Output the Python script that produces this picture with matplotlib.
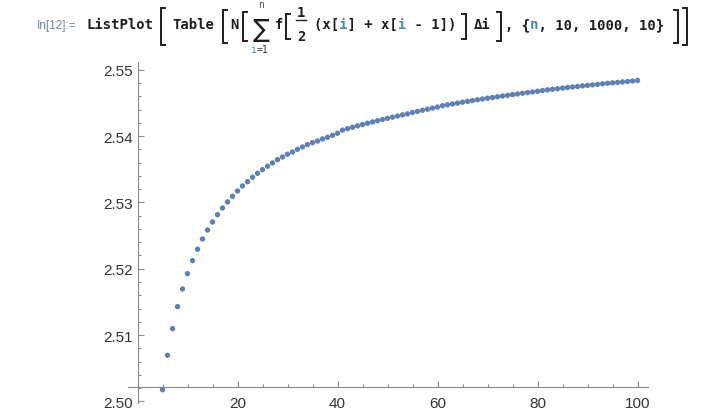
import matplotlib
matplotlib.use("Agg")
import matplotlib.pyplot as plt
from matplotlib.lines import Line2D
from matplotlib.ticker import FixedLocator

# -- values (points below 2.50 are clipped by the plot range)
n_index = list(range(5, 101))
sums = [
    2.50175, 2.50694, 2.51096, 2.51428, 2.51695, 2.51926, 2.52122, 2.52294,
    2.52449, 2.52585, 2.52706, 2.52816, 2.52917, 2.53008, 2.53094, 2.53174,
    2.53249, 2.53314, 2.53381, 2.53441, 2.53495, 2.53547, 2.53596, 2.53646,
    2.53687, 2.53728, 2.53762, 2.53803, 2.53838, 2.53873, 2.53903, 2.53928,
    2.53959, 2.53984, 2.54014, 2.54045, 2.54092, 2.54114, 2.54135, 2.54156,
    2.54176, 2.54196, 2.54215, 2.54234, 2.54252, 2.54270, 2.54288, 2.54305,
    2.54322, 2.54338, 2.54358, 2.54375, 2.54392, 2.54408, 2.54424, 2.54440,
    2.54460, 2.54474, 2.54487, 2.54500, 2.54513, 2.54526, 2.54538, 2.54550,
    2.54562, 2.54574, 2.54585, 2.54596, 2.54607, 2.54618, 2.54628, 2.54638,
    2.54648, 2.54658, 2.54668, 2.54678, 2.54690, 2.54699, 2.54708, 2.54717,
    2.54726, 2.54735, 2.54743, 2.54751, 2.54759, 2.54767, 2.54775, 2.54783,
    2.54791, 2.54798, 2.54805, 2.54812, 2.54819, 2.54826, 2.54833, 2.54842,
]
x_major = [20, 40, 60, 80, 100]
y_major = [2.50, 2.51, 2.52, 2.53, 2.54, 2.55]
y_labels = ["2.50", "2.51", "2.52", "2.53", "2.54", "2.55"]

W, H = 701, 410
fig = plt.figure(figsize=(W / 100, H / 100), dpi=100)
fig.patch.set_facecolor("white")


def fx(x):
    return x / W


def fy(y):
    return 1 - y / H


# -- the Mathematica input line on top
code_font = dict(family="DejaVu Sans Mono", fontweight="bold", fontsize=10)
dark = "#1e1e1e"
teal = "#4590a5"
base = 29


def code(x, text, teal_mask=None):
    # dark part, with the teal characters blanked out, then the teal part on top
    if teal_mask is None:
        fig.text(fx(x), fy(base), text, color=dark, va="baseline", **code_font)
        return
    plain = "".join(" " if t != " " else c for c, t in zip(text, teal_mask))
    fig.text(fx(x), fy(base), plain, color=dark, va="baseline", **code_font)
    fig.text(fx(x), fy(base), teal_mask, color=teal, va="baseline", **code_font)


fig.text(fx(37), fy(base), "In[12]:=", family="Liberation Sans", fontsize=8.5,
         color="#72839b", va="baseline")
code(86, "ListPlot")
code(172, "Table")
code(230, "N")
fig.text(fx(261), fy(30), "\u2211", color=dark, fontsize=18, va="center",
         ha="center", family="DejaVu Sans")
fig.text(fx(261), fy(8), "n", color="#555555", fontsize=7, va="baseline",
         ha="center", family="DejaVu Sans Mono")
fig.text(fx(250), fy(53), "i", color=teal, fontsize=7, va="baseline",
         family="DejaVu Sans Mono")
fig.text(fx(256.5), fy(53), "=1", color="#333333", fontsize=7, va="baseline",
         family="DejaVu Sans Mono")
code(275, "f")
fig.text(fx(301), fy(17), "1", color=dark, va="baseline", ha="center", **code_font)
fig.text(fx(301), fy(41), "2", color=dark, va="baseline", ha="center", **code_font)
fig.add_artist(Line2D([fx(296), fx(306)], [fy(21), fy(21)], color=dark, lw=1.0,
                      transform=fig.transFigure))

code(314, "(x[i] + x[i - 1])", "   i      i      ")
code(474, "\u0394i")
code(505, ", {n, 10, 1000, 10}", "   n               ")


def bracket(x, y0, y1, opening=True):
    d = 4 if opening else -4
    fig.add_artist(Line2D([fx(x + d), fx(x), fx(x), fx(x + d)],
                          [fy(y0), fy(y0), fy(y1), fy(y1)], color=dark, lw=1.4,
                          transform=fig.transFigure, solid_joinstyle="miter"))


bracket(161, 9, 46)
bracket(223, 11, 44)
bracket(243, 13, 42)
bracket(286, 15, 40)
bracket(466, 15, 40, opening=False)
bracket(501, 13, 42, opening=False)
bracket(678, 11, 44, opening=False)
bracket(687, 9, 46, opening=False)

# -- the plot itself
ax = fig.add_axes([fx(127.5), fy(403.6), 520 / W, (403.6 - 63) / H])
ax.scatter(n_index, sums, s=15, color="#5e81b5", edgecolors="none", zorder=3,
           clip_on=False)

ax.set_xlim(-2, 102)
ax.set_ylim(2.4998, 2.5512)

for s in ["top", "right"]:
    ax.spines[s].set_visible(False)
ax.spines["left"].set_position(("data", 0))
ax.spines["bottom"].set_position(("data", 2.5021))
for s in ["left", "bottom"]:
    ax.spines[s].set_color("#8a8a8a")
    ax.spines[s].set_linewidth(0.8)

ax.xaxis.set_major_locator(FixedLocator(x_major))
ax.xaxis.set_minor_locator(FixedLocator([v for v in range(5, 101, 5) if v % 20]))
ax.yaxis.set_major_locator(FixedLocator(y_major))
ax.yaxis.set_minor_locator(FixedLocator([2.50 + 0.002 * k for k in range(1, 26) if k % 5]))
ax.set_xticklabels([str(v) for v in x_major])
ax.set_yticklabels(y_labels)

ax.tick_params(which="both", direction="in", color="#8a8a8a", width=0.8,
               labelcolor="#333333", labelsize=11)
ax.tick_params(which="major", length=4.5)
ax.tick_params(which="minor", length=2.5)
ax.tick_params(axis="y", pad=3)
ax.tick_params(axis="x", pad=6)
for lab in ax.get_xticklabels() + ax.get_yticklabels():
    lab.set_family("Liberation Sans")

fig.savefig("out.png", dpi=100)
